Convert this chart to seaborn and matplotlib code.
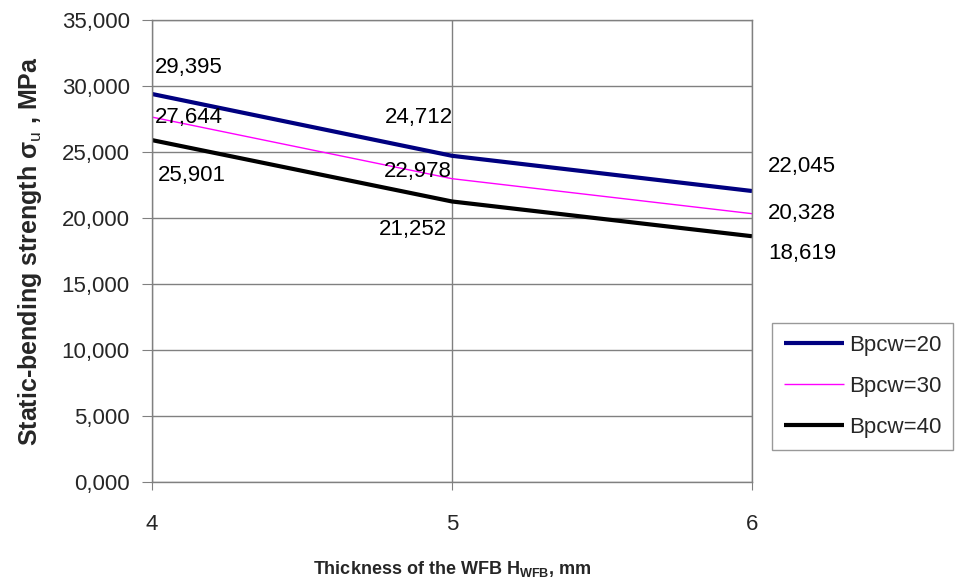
import matplotlib
matplotlib.use("Agg")
import matplotlib.pyplot as plt
import seaborn as sns
import pandas as pd

sns.set_style("white")
plt.rcParams['font.family'] = ['Liberation Sans', 'DejaVu Sans']
plt.rcParams['mathtext.fontset'] = 'custom'
plt.rcParams['mathtext.rm'] = 'Liberation Sans'
plt.rcParams['mathtext.bf'] = 'Liberation Sans:bold'

thickness = [4, 5, 6]
series_names = ["Bpcw=20", "Bpcw=30", "Bpcw=40"]
bpcw20 = [29.395, 24.712, 22.045]
bpcw30 = [27.644, 22.978, 20.328]
bpcw40 = [25.901, 21.252, 18.619]
y_ticks = [0, 5, 10, 15, 20, 25, 30, 35]
x_ticks = [4, 5, 6]

colors = ["#000080", "#FF00FF", "#000000"]
widths = [3.0, 1.0, 3.0]
FS = 16

def fmt(v):
    return f"{v:.3f}".replace(".", ",")

fig = plt.figure(figsize=(9.55, 5.86), dpi=100)
ax = fig.add_axes([152/955, 1-482/586, 600/955, 462/586])

all_series = [bpcw20, bpcw30, bpcw40]
for name, vals, c, w in zip(series_names, all_series, colors, widths):
    df = pd.DataFrame({"x": thickness, "y": vals})
    sns.lineplot(data=df, x="x", y="y", ax=ax, color=c, linewidth=w, label=name,
                 solid_capstyle='butt')

# data labels: (ha, offsets in pixels) per series per point
offsets = [
    [("left", 3, 26), ("right", 1, 38), ("left", 16, 25)],
    [("left", 3, 0), ("right", 0, 7), ("left", 16, 0)],
    [("left", 6, -35), ("right", -5, -28), ("left", 16, -17)],
]
for vals, offs in zip(all_series, offsets):
    for xv, yv, (ha, dx, dy) in zip(thickness, vals, offs):
        ax.annotate(fmt(yv), (xv, yv), xytext=(dx, dy), textcoords='offset pixels',
                    ha=ha, va='center', fontsize=FS, color='black',
                    annotation_clip=False)

ax.set_xlim(4, 6)
ax.set_ylim(0, 35)
ax.set_xticks(x_ticks)
ax.set_xticklabels([str(t) for t in x_ticks])
ax.set_yticks(y_ticks)
ax.set_yticklabels([fmt(t) for t in y_ticks])
ax.tick_params(axis='y', direction='out', length=7, pad=9, labelsize=FS,
               color='#808080', left=True)
ax.tick_params(axis='x', direction='out', length=6, pad=17, labelsize=FS,
               color='#808080', bottom=True)
ax.grid(True, color='#808080', linewidth=1)
for s in ax.spines.values():
    s.set_color('#808080')
    s.set_linewidth(1)

ax.set_xlabel(r"Thickness of the WFB H$_{\mathbf{WFB}}$, mm", fontsize=13,
              fontweight='bold', labelpad=17)
ax.set_ylabel(r"Static-bending strength σ$_{\mathrm{u}}$ , MPa", fontsize=18,
              fontweight='bold', labelpad=13)

leg = ax.legend(loc='upper left', bbox_to_anchor=(772/955, 1-323/586),
                bbox_transform=fig.transFigure, frameon=True, fancybox=False,
                shadow=False, fontsize=FS, handlelength=2.7, handletextpad=0.2,
                labelspacing=0.9, borderpad=0.55, borderaxespad=0)
leg.get_frame().set_edgecolor('#808080')
leg.get_frame().set_linewidth(1)

fig.savefig("out.png", dpi=100)
